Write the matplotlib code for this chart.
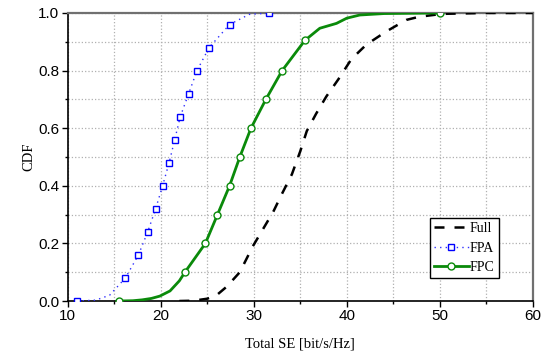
import matplotlib
matplotlib.use('Agg')
import matplotlib.pyplot as plt
from matplotlib.ticker import MultipleLocator, FormatStrFormatter

# Full (dashed black)
full_x = [22.0, 23.5, 25.0, 26.0, 27.1, 28.5, 29.9, 31.0, 32.1, 33.0, 34.1, 35.0, 35.7,
          36.7, 37.8, 39.1, 40.5, 42.1, 44.2, 46.4, 47.8, 50.3, 55.0, 60.0]
full_y = [0.0, 0.001, 0.008, 0.02, 0.05, 0.10, 0.19, 0.25, 0.31, 0.37, 0.44, 0.52, 0.59,
          0.65, 0.71, 0.77, 0.84, 0.89, 0.935, 0.976, 0.987, 0.997, 1.0, 1.0]

# FPA (dotted blue, square markers)
fpa_x = [11.0, 13.0, 14.5, 16.2, 17.6, 18.6, 19.45, 20.2, 20.9, 21.5, 22.1, 23.0, 23.9,
         25.2, 27.4, 29.5, 31.6]
fpa_y = [0.0, 0.003, 0.02, 0.08, 0.16, 0.24, 0.32, 0.40, 0.48, 0.56, 0.64, 0.72, 0.80,
         0.88, 0.96, 0.995, 1.0]
fpa_marks = [0, 3, 4, 5, 6, 7, 8, 9, 10, 11, 12, 13, 14, 16]

# FPC (solid green, circle markers)
fpc_x = [15.5, 17.0, 18.0, 19.0, 19.9, 21.0, 22.0, 22.6, 23.7, 24.8, 26.1, 27.4, 28.5,
         29.7, 31.3, 33.05, 35.5, 37.1, 38.9, 40.0, 41.4, 44.0, 47.0, 50.0]
fpc_y = [0.0, 0.001, 0.004, 0.009, 0.017, 0.035, 0.07, 0.10, 0.15, 0.20, 0.30, 0.40, 0.50,
         0.60, 0.70, 0.80, 0.905, 0.947, 0.964, 0.982, 0.993, 0.998, 0.999, 1.0]
fpc_marks = [0, 7, 9, 10, 11, 12, 13, 14, 15, 16, 23]

fig = plt.figure(figsize=(5.51, 3.54), dpi=100)
ax = fig.add_axes([0.1229, 0.1497, 0.967 - 0.1229, 0.9633 - 0.1497])

ax.plot(full_x, full_y, color='black', lw=1.8, dashes=(4, 4), label='Full', zorder=3)
ax.plot(fpa_x, fpa_y, color='#2f2fff', lw=1.0, ls=(0, (1, 3)), marker='s', ms=5,
        mfc='white', mec='#0000ff', mew=1.0, markevery=fpa_marks, label='FPA', zorder=4)
ax.plot(fpc_x, fpc_y, color='#0a8a0a', lw=2.0, marker='o', ms=5, mfc='white',
        mec='#0a8a0a', mew=1.0, markevery=fpc_marks, label='FPC', zorder=5)

ax.set_xlim(10, 60)
ax.set_ylim(0, 1)
ax.xaxis.set_major_locator(MultipleLocator(10))
ax.xaxis.set_minor_locator(MultipleLocator(5))
ax.yaxis.set_major_locator(MultipleLocator(0.2))
ax.yaxis.set_minor_locator(MultipleLocator(0.1))
ax.yaxis.set_major_formatter(FormatStrFormatter('%.1f'))
ax.grid(True, which='both', color='#b0b0b0', ls=':', lw=0.9)
ax.set_axisbelow(True)

ax.tick_params(which='major', direction='out', length=4, width=1, pad=2,
               labelsize=11, labelfontfamily='Liberation Sans')
ax.tick_params(which='minor', direction='out', length=2.5, width=1)
for s in ['top', 'right']:
    ax.spines[s].set_color('#707070')
    ax.spines[s].set_linewidth(1.6)
for s in ['left', 'bottom']:
    ax.spines[s].set_linewidth(1.2)

ax.set_xlabel('Total SE [bit/s/Hz]', family='Liberation Serif', fontsize=10.5, labelpad=10)
ax.set_ylabel('CDF', family='Liberation Serif', fontsize=10.5, labelpad=2)

leg = ax.legend(loc='lower right', bbox_to_anchor=(0.927, 0.08), fancybox=False,
                framealpha=1, edgecolor='black', prop={'family': 'Liberation Serif', 'size': 10},
                handlelength=2.5, handletextpad=0.1, borderpad=0.3, labelspacing=0.45,
                borderaxespad=0)
leg.get_frame().set_linewidth(1.0)

fig.savefig('out.png', dpi=100)
